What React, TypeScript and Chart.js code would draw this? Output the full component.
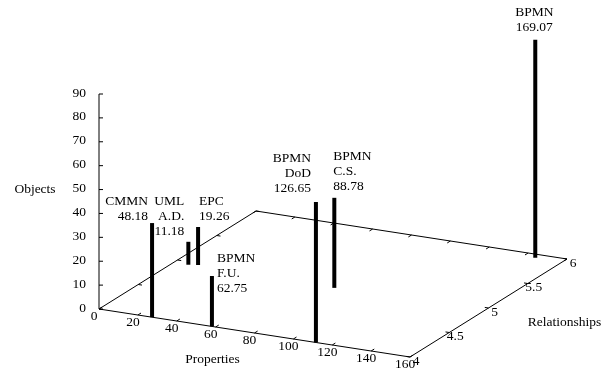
import React, { useEffect, useRef } from 'react';
import { Chart, registerables } from 'chart.js';

Chart.register(...registerables);

// ---- data ----
const modelNames = ['CMMN', 'UML A.D.', 'EPC', 'BPMN F.U.', 'BPMN DoD', 'BPMN C.S.', 'BPMN'];
const modelScores = ['48.18', '11.18', '19.26', '62.75', '126.65', '88.78', '169.07'];
const properties = [27.3, 7.6, 11.8, 58.1, 111.6, 83.1, 146.1];
const relationships = [4, 4.95, 4.97, 4, 4, 4.94, 5.94];
const objects = [39.4, 9.6, 15.9, 21.1, 58.8, 37.7, 91.3];

const propertyTicks = [0, 20, 40, 60, 80, 100, 120, 140, 160];
const relationshipTicks = [4, 4.5, 5, 5.5, 6];
const objectTicks = [0, 10, 20, 30, 40, 50, 60, 70, 80, 90];

const axisTitles = { x: 'Properties', y: 'Relationships', z: 'Objects' };

// ---- layout / view (screen geometry of the 3D box) ----
const W = 610;
const H = 374;
const VIEW = {
  origin: [99, 309],
  xVec: [311, 48],
  yVec: [157, -98],
  zVec: [0, -215],
  xMin: 0, xMax: 160,
  yMin: 4, yMax: 6,
  zMin: 0, zMax: 90,
};
const FONT = '13.5px "Liberation Serif", "DejaVu Serif", serif';
const LINE_H = 15;
// label placement relative to the top of each impulse
const labelLayout = [
  { align: 'right', dx: -4, dy: -22 },
  { align: 'right', dx: -4, dy: -40 },
  { align: 'left', dx: 1, dy: -26 },
  { align: 'left', dx: 5, dy: -18 },
  { align: 'right', dx: -5, dy: -44 },
  { align: 'left', dx: -1, dy: -41 },
  { align: 'center', dx: -1, dy: -27 },
];

function project(x: number, y: number, z: number) {
  const a = (x - VIEW.xMin) / (VIEW.xMax - VIEW.xMin);
  const b = (y - VIEW.yMin) / (VIEW.yMax - VIEW.yMin);
  const c = (z - VIEW.zMin) / (VIEW.zMax - VIEW.zMin);
  return {
    x: VIEW.origin[0] + a * VIEW.xVec[0] + b * VIEW.yVec[0] + c * VIEW.zVec[0],
    y: VIEW.origin[1] + a * VIEW.xVec[1] + b * VIEW.yVec[1] + c * VIEW.zVec[1],
  };
}

const GAP = { x: NaN, y: null as any };

function buildDatasets() {
  const ds: any[] = [];
  const lineBase = {
    showLine: true,
    pointRadius: 0,
    pointHoverRadius: 0,
    borderColor: '#000',
    backgroundColor: '#000',
    fill: false,
    spanGaps: false,
  };
  // impulses
  for (let i = 0; i < modelNames.length; i++) {
    ds.push({
      ...lineBase,
      label: modelNames[i],
      data: [
        project(properties[i], relationships[i], VIEW.zMin),
        project(properties[i], relationships[i], objects[i]),
      ],
      borderWidth: 4,
      borderCapStyle: 'butt',
      order: 0,
    });
  }
  // base frame
  ds.push({
    ...lineBase,
    label: 'frame',
    data: [
      project(VIEW.xMin, VIEW.yMin, VIEW.zMin),
      project(VIEW.xMax, VIEW.yMin, VIEW.zMin),
      project(VIEW.xMax, VIEW.yMax, VIEW.zMin),
      project(VIEW.xMin, VIEW.yMax, VIEW.zMin),
      project(VIEW.xMin, VIEW.yMin, VIEW.zMin),
    ],
    borderWidth: 1,
    order: 1,
  });
  // z axis
  ds.push({
    ...lineBase,
    label: 'zaxis',
    data: [project(VIEW.xMin, VIEW.yMin, VIEW.zMin), project(VIEW.xMin, VIEW.yMin, VIEW.zMax)],
    borderWidth: 1,
    order: 1,
  });
  // tick marks
  const ticks: any[] = [];
  const yTickLen = 0.02 * (VIEW.yMax - VIEW.yMin);
  const xTickLen = 0.012 * (VIEW.xMax - VIEW.xMin);
  for (const t of propertyTicks) {
    ticks.push(project(t, VIEW.yMin, 0), project(t, VIEW.yMin + yTickLen, 0), GAP);
    ticks.push(project(t, VIEW.yMax, 0), project(t, VIEW.yMax - yTickLen, 0), GAP);
  }
  for (const t of relationshipTicks) {
    ticks.push(project(VIEW.xMax, t, 0), project(VIEW.xMax - xTickLen, t, 0), GAP);
    ticks.push(project(VIEW.xMin, t, 0), project(VIEW.xMin + xTickLen, t, 0), GAP);
  }
  for (const t of objectTicks) {
    const p = project(VIEW.xMin, VIEW.yMin, t);
    ticks.push(p, { x: p.x + 4, y: p.y }, GAP);
  }
  ds.push({
    ...lineBase,
    label: 'ticks',
    data: ticks,
    borderWidth: 1,
    order: 1,
  });
  return ds;
}

const textPlugin = {
  id: 'text3d',
  afterDatasetsDraw(chart: any) {
    const ctx = chart.ctx as CanvasRenderingContext2D;
    const sx = chart.scales.x;
    const sy = chart.scales.y;
    const px = (p: { x: number; y: number }) => ({ x: sx.getPixelForValue(p.x), y: sy.getPixelForValue(p.y) });
    ctx.save();
    ctx.fillStyle = '#000';
    ctx.font = FONT;
    ctx.textBaseline = 'middle';

    // z tick labels
    ctx.textAlign = 'right';
    for (const t of objectTicks) {
      const p = px(project(VIEW.xMin, VIEW.yMin, t));
      ctx.fillText(String(t), p.x - 13, p.y - 1);
    }
    // x tick labels
    ctx.textAlign = 'center';
    for (const t of propertyTicks) {
      const p = px(project(t, VIEW.yMin, 0));
      ctx.fillText(String(t), p.x - 5, p.y + 7);
    }
    // y tick labels
    for (const t of relationshipTicks) {
      const p = px(project(VIEW.xMax, t, 0));
      ctx.fillText(String(t), p.x + 6, p.y + 4);
    }
    // axis titles
    const xt = px(project((VIEW.xMin + VIEW.xMax) / 2, VIEW.yMin, 0));
    ctx.fillText(axisTitles.x, xt.x - 42, xt.y + 26);
    const yt = px(project(VIEW.xMax, (VIEW.yMin + VIEW.yMax) / 2, 0));
    ctx.fillText(axisTitles.y, yt.x + 76, yt.y + 14);
    const zt = px(project(VIEW.xMin, VIEW.yMin, (VIEW.zMin + VIEW.zMax) / 2));
    ctx.fillText(axisTitles.z, zt.x - 64, zt.y - 12);

    // impulse labels
    for (let i = 0; i < modelNames.length; i++) {
      const top = px(project(properties[i], relationships[i], objects[i]));
      const lines = [...modelNames[i].split(' '), modelScores[i]];
      const lay = labelLayout[i];
      ctx.textAlign = lay.align as CanvasTextAlign;
      lines.forEach((ln, k) => {
        ctx.fillText(ln, top.x + lay.dx, top.y + lay.dy + k * LINE_H);
      });
    }
    ctx.restore();
  },
};

export default function App() {
  const canvasRef = useRef<HTMLCanvasElement | null>(null);
  useEffect(() => {
    if (!canvasRef.current) return;
    const chart = new Chart(canvasRef.current, {
      type: 'scatter',
      data: { datasets: buildDatasets() },
      options: {
        animation: false,
        responsive: true,
        maintainAspectRatio: false,
        devicePixelRatio: 1,
        layout: { padding: 0 },
        events: [],
        plugins: { legend: { display: false }, tooltip: { enabled: false } },
        scales: {
          x: { type: 'linear', min: 0, max: W, display: false },
          y: { type: 'linear', min: 0, max: H, reverse: true, display: false },
        },
      },
      plugins: [textPlugin],
    });
    return () => chart.destroy();
  }, []);
  return (
    <div style={{ position: 'fixed', left: 0, top: 0, width: W, height: H, background: '#fff' }}>
      <canvas ref={canvasRef} />
    </div>
  );
}
